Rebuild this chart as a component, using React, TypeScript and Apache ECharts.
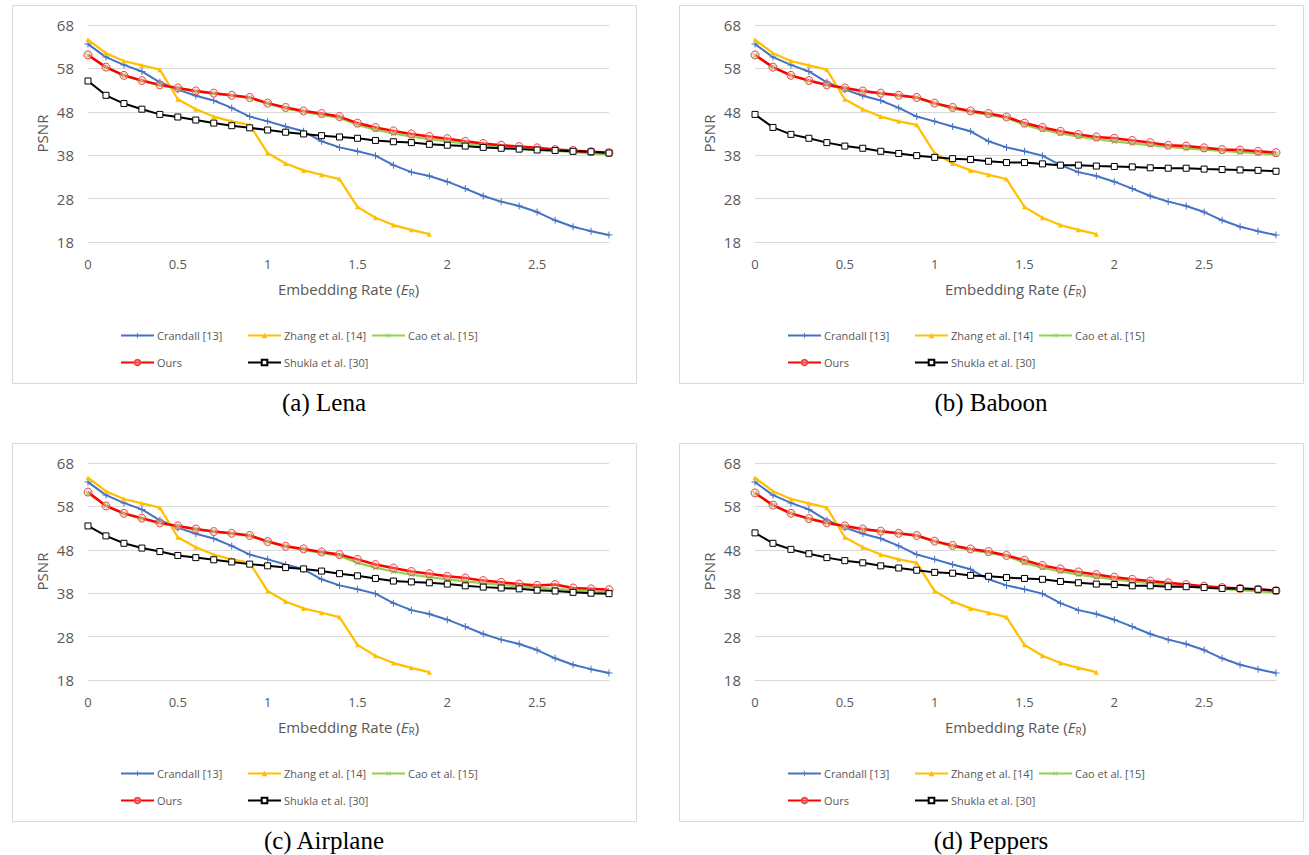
import React, { useEffect, useRef } from "react";
import * as echarts from "echarts";

const categories = ["0","0.1","0.2","0.3","0.4","0.5","0.6","0.7","0.8","0.9","1","1.1","1.2","1.3","1.4","1.5","1.6","1.7","1.8","1.9","2","2.1","2.2","2.3","2.4","2.5","2.6","2.7","2.8","2.9"];

const seriesNames = ["Crandall [13]", "Zhang et al. [14]", "Cao et al. [15]", "Ours", "Shukla et al. [30]"];

const crandall = [63.6, 60.6, 58.8, 57.3, 54.8, 53.1, 51.7, 50.6, 48.9, 46.9, 45.8, 44.6, 43.5, 41.2, 39.8, 38.9, 37.9, 35.7, 34.1, 33.2, 31.9, 30.3, 28.6, 27.3, 26.3, 24.9, 23.0, 21.5, 20.5, 19.6];
const zhang = [64.6, 61.5, 59.7, 58.7, 57.7, 50.9, 48.6, 46.9, 45.8, 45.0, 38.5, 36.1, 34.5, 33.5, 32.5, 26.1, 23.6, 21.9, 20.8, 19.8];
const cao = [61.0, 58.2, 56.3, 55.1, 54.1, 53.4, 52.7, 52.2, 51.7, 51.2, 49.9, 48.8, 48.0, 47.3, 46.6, 45.0, 43.9, 43.0, 42.3, 41.7, 41.2, 40.7, 40.3, 39.9, 39.6, 39.3, 39.0, 38.7, 38.4, 38.2];

const oursLena = [61.1, 58.3, 56.4, 55.2, 54.2, 53.5, 52.8, 52.3, 51.8, 51.3, 50.0, 49.0, 48.2, 47.6, 46.9, 45.4, 44.4, 43.6, 42.9, 42.3, 41.8, 41.2, 40.7, 40.3, 40.0, 39.7, 39.3, 39.1, 38.8, 38.6];
const oursBaboon = [61.1, 58.3, 56.4, 55.2, 54.2, 53.5, 52.8, 52.3, 51.8, 51.3, 50.0, 49.0, 48.2, 47.6, 46.8, 45.4, 44.4, 43.5, 42.8, 42.2, 41.9, 41.4, 40.9, 40.3, 40.1, 39.7, 39.3, 39.2, 38.9, 38.6];
const oursAirplane = [61.3, 58.1, 56.4, 55.3, 54.2, 53.5, 52.8, 52.2, 51.8, 51.3, 49.9, 48.8, 48.2, 47.5, 46.9, 45.8, 44.6, 43.8, 43.0, 42.5, 41.9, 41.5, 40.9, 40.5, 40.1, 39.8, 40.0, 39.2, 39.0, 38.8];
const oursPeppers = [61.1, 58.3, 56.4, 55.2, 54.2, 53.5, 52.8, 52.3, 51.8, 51.3, 50.0, 49.0, 48.2, 47.6, 46.7, 45.6, 44.4, 43.6, 42.9, 42.3, 41.7, 41.2, 40.8, 40.4, 40.0, 39.6, 39.3, 39.1, 38.9, 38.6];

const shuklaLena = [55.1, 51.8, 49.9, 48.6, 47.4, 46.8, 46.1, 45.4, 44.8, 44.3, 43.8, 43.3, 42.9, 42.5, 42.2, 41.9, 41.4, 41.1, 40.9, 40.5, 40.3, 40.1, 39.8, 39.6, 39.4, 39.2, 39.1, 38.9, 38.8, 38.5];
const shuklaBaboon = [47.4, 44.4, 42.8, 41.9, 40.9, 40.1, 39.6, 38.9, 38.4, 37.9, 37.5, 37.2, 37.0, 36.6, 36.3, 36.3, 36.0, 35.7, 35.7, 35.5, 35.4, 35.3, 35.1, 35.0, 35.0, 34.8, 34.7, 34.6, 34.5, 34.3];
const shuklaAirplane = [53.5, 51.2, 49.5, 48.4, 47.6, 46.7, 46.2, 45.7, 45.2, 44.7, 44.3, 43.9, 43.6, 43.1, 42.5, 42.0, 41.4, 40.8, 40.6, 40.4, 40.1, 39.7, 39.4, 39.2, 39.0, 38.7, 38.5, 38.2, 38.0, 37.9];
const shuklaPeppers = [51.9, 49.5, 48.1, 47.1, 46.2, 45.5, 45.0, 44.3, 43.8, 43.3, 42.8, 42.6, 42.1, 41.9, 41.6, 41.4, 41.2, 40.7, 40.4, 40.1, 40.0, 39.7, 39.7, 39.5, 39.5, 39.3, 39.1, 39.1, 38.9, 38.6];

const captions = ["(a) Lena", "(b) Baboon", "(c) Airplane", "(d) Peppers"];
const panelOurs = [oursLena, oursBaboon, oursAirplane, oursPeppers];
const panelShukla = [shuklaLena, shuklaBaboon, shuklaAirplane, shuklaPeppers];

const yTicks = { min: 18, max: 68, interval: 10 };

const CROSS = "path://M3,0H4V3H7V4H4V7H3V4H0V3H3Z";
const GRAY = "#595959";
const GRID_LINE = "#d9d9d9";
const FONT = "'Open Sans', sans-serif";

export default function App() {
  const ref = useRef<HTMLDivElement>(null);
  useEffect(() => {
    if (!ref.current) return;
    const chart = echarts.init(ref.current, null, { renderer: "svg" });

    const offsets = [
      { dx: 0, dy: 0 },
      { dx: 667, dy: 0 },
      { dx: 0, dy: 438 },
      { dx: 667, dy: 438 },
    ];

    const grids: any[] = [];
    const xAxes: any[] = [];
    const yAxes: any[] = [];
    const series: any[] = [];
    const legends: any[] = [];
    const graphics: any[] = [];

    offsets.forEach((o, k) => {
      grids.push({ left: 88 + o.dx, top: 25 + o.dy, width: 521, height: 217, containLabel: false, outerBoundsMode: "none" });
      xAxes.push({
        type: "category",
        gridIndex: k,
        data: categories,
        boundaryGap: false,
        axisTick: { show: false },
        axisLine: { lineStyle: { color: GRID_LINE, width: 1 } },
        axisLabel: { interval: 4, color: GRAY, fontSize: 13, fontFamily: FONT, margin: 15 },
        name: "Embedding Rate ({i|E}{s|R})",
        nameLocation: "middle",
        nameGap: 38,
        nameTextStyle: {
          color: GRAY,
          fontSize: 15,
          fontFamily: FONT,
          rich: {
            i: { fontStyle: "italic", fontSize: 15, fontFamily: FONT, color: GRAY },
            s: { fontSize: 10, fontFamily: FONT, color: GRAY, verticalAlign: "bottom", padding: [8, 0, 0, 0] },
          },
        },
      });
      yAxes.push({
        type: "value",
        gridIndex: k,
        min: yTicks.min,
        max: yTicks.max,
        interval: yTicks.interval,
        axisLine: { show: false },
        axisTick: { show: false },
        splitLine: { lineStyle: { color: GRID_LINE, width: 1 } },
        axisLabel: { color: GRAY, fontSize: 15, fontFamily: FONT, margin: 14 },
        name: "PSNR",
        nameLocation: "middle",
        nameGap: 39,
        nameTextStyle: { color: GRAY, fontSize: 15, fontFamily: FONT },
      });

      const common = { type: "line", xAxisIndex: k, yAxisIndex: k, emphasis: { disabled: true } };
      series.push({
        ...common,
        name: seriesNames[0],
        data: crandall,
        symbol: CROSS,
        symbolSize: 7,
        lineStyle: { color: "#4472C4", width: 2 },
        itemStyle: { color: "#4472C4" },
      });
      series.push({
        ...common,
        name: seriesNames[1],
        data: zhang,
        symbol: "triangle",
        symbolSize: 5,
        lineStyle: { color: "#FFC000", width: 2.25 },
        itemStyle: { color: "#FFC000" },
      });
      series.push({
        ...common,
        name: seriesNames[2],
        data: cao,
        symbol: CROSS,
        symbolRotate: 45,
        symbolSize: 7,
        lineStyle: { color: "#92D050", width: 2.25 },
        itemStyle: { color: "#92D050" },
      });
      series.push({
        ...common,
        name: seriesNames[3],
        data: panelOurs[k],
        symbol: "circle",
        symbolSize: 8,
        lineStyle: { color: "#FF0000", width: 2.5 },
        itemStyle: { color: "rgba(255,180,180,0.35)", borderColor: "#E84A4A", borderWidth: 1 },
      });
      series.push({
        ...common,
        name: seriesNames[4],
        data: panelShukla[k],
        symbol: "rect",
        symbolSize: 6,
        lineStyle: { color: "#000000", width: 2 },
        itemStyle: { color: "#ffffff", borderColor: "#000000", borderWidth: 1 },
      });

      const legendPos = [
        { left: 120, top: 330 },
        { left: 247, top: 330 },
        { left: 371, top: 330 },
        { left: 120, top: 357 },
        { left: 247, top: 357 },
      ];
      legendPos.forEach((p, j) => {
        legends.push({
          data: [seriesNames[j]],
          left: p.left + o.dx,
          top: p.top + o.dy,
          padding: 0,
          itemWidth: 33,
          itemHeight: 7,
          itemGap: 0,
          selectedMode: false,
          textStyle: { color: GRAY, fontSize: 11, fontFamily: FONT, padding: [0, 0, 0, -2] },
        });
      });

      graphics.push({
        type: "rect",
        shape: { x: 12.5 + o.dx, y: 5.5 + o.dy, width: 624, height: 378 },
        style: { fill: "none", stroke: GRID_LINE, lineWidth: 1 },
        silent: true,
      });
      graphics.push({
        type: "text",
        x: 324 + o.dx,
        y: 402 + o.dy,
        style: {
          text: captions[k],
          fill: "#000",
          fontSize: 25,
          fontFamily: "'Liberation Serif', 'Times New Roman', serif",
          align: "center",
          verticalAlign: "middle",
          textAlign: "center",
          textVerticalAlign: "middle",
        },
        silent: true,
      });
    });

    chart.setOption({
      animation: false,
      backgroundColor: "#ffffff",
      grid: grids,
      xAxis: xAxes,
      yAxis: yAxes,
      legend: legends,
      series,
      graphic: graphics,
    });
    return () => chart.dispose();
  }, []);
  return <div ref={ref} style={{ position: "absolute", left: 0, top: 0, width: 1309, height: 855 }} />;
}
